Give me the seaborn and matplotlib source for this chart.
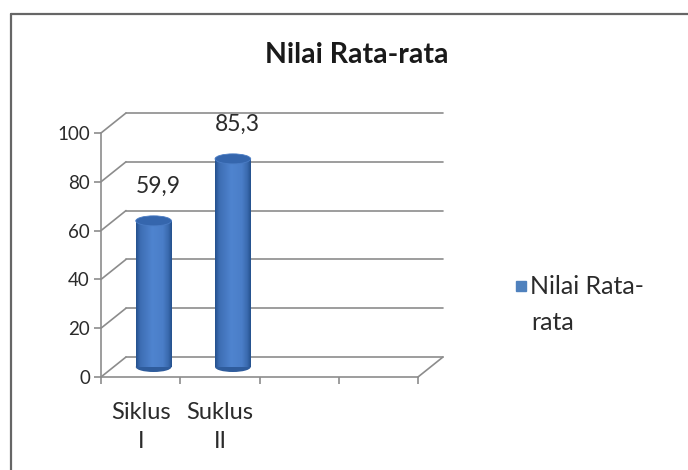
import numpy as np
import pandas as pd
import matplotlib
matplotlib.use("Agg")
import matplotlib.pyplot as plt
import seaborn as sns
from matplotlib.transforms import ScaledTranslation
from matplotlib.patches import Ellipse
from matplotlib.lines import Line2D
from matplotlib.colors import LinearSegmentedColormap

# ---- data ----
categories = ["Siklus\nI", "Suklus\nII"]
values = [59.9, 85.3]
value_labels = ["59,9", "85,3"]
n_slots = 4
yticks = [0, 20, 40, 60, 80, 100]
series_name = "Nilai Rata-rata"
title = "Nilai Rata-rata"

sns.set_theme(style="white")
plt.rcParams["font.family"] = ["Lato", "DejaVu Sans"]

GRID = "#8c8c8c"
TXT = "#2b2b2b"

fig = plt.figure(figsize=(6.88, 4.70), dpi=100)
fig.patch.set_facecolor("white")
ax = fig.add_axes([101 / 688, 1 - 377 / 470, 317 / 688, 244 / 470])

df = pd.DataFrame({"cat": categories, "val": values})
sns.barplot(data=df, x="cat", y="val", order=categories, color="#4F81BD",
            width=0.45, saturation=1, ax=ax, errorbar=None)
ax.set_xlim(-0.5, n_slots - 0.5)
ax.set_ylim(0, 100)
ax.set_xlabel("")
ax.set_ylabel("")

# depth transforms (pseudo 3-D)
back = ax.transData + ScaledTranslation(0.25, 0.20, fig.dpi_scale_trans)
mid = ax.transData + ScaledTranslation(0.13, 0.10, fig.dpi_scale_trans)
inv = ax.transData.inverted()

def to_back(x, y):
    return inv.transform(back.transform((x, y)))

xl, xr = -0.5, n_slots - 0.5
# back wall gridlines + side-wall diagonals
for y in yticks:
    ax.plot([xl, xr], [y, y], transform=back, color=GRID, lw=1.2,
            clip_on=False, zorder=0.5)
    bx, by = to_back(xl, y)
    ax.plot([xl, bx], [y, by], color=GRID, lw=1.2, clip_on=False, zorder=0.5)
# floor right edge
bx, by = to_back(xr, 0)
ax.plot([xr, bx], [0, by], color=GRID, lw=1.2, clip_on=False, zorder=0.5)

# cylinders
cmap = LinearSegmentedColormap.from_list(
    "cyl", [(0.0, "#24508c"), (0.12, "#3d6db3"), (0.45, "#4f84cf"),
            (0.75, "#4a7ec8"), (0.9, "#3a6aae"), (1.0, "#24508c")])
grad = np.linspace(0, 1, 256)[None, :]
px_per_unit = ax.transData.transform((0, 1))[1] - ax.transData.transform((0, 0))[1]
eh = 10.0 / px_per_unit

for patch, lab in zip(ax.patches, value_labels):
    x0, w, h = patch.get_x(), patch.get_width(), patch.get_height()
    xc = x0 + w / 2
    patch.set_transform(mid)
    patch.set_edgecolor("none")
    patch.set_zorder(3)
    im = ax.imshow(grad, extent=(x0, x0 + w, 0, h), transform=mid, cmap=cmap,
                   aspect="auto", zorder=3.1, interpolation="bilinear")
    im.set_clip_path(patch)
    ax.add_patch(Ellipse((xc, 0), w, eh, transform=mid, facecolor="#2f5c9c",
                         edgecolor="none", zorder=2.9))
    ax.add_patch(Ellipse((xc, h), w, eh, transform=mid, facecolor="#3566ad",
                         edgecolor="#4a7cc4", lw=0.6, zorder=3.3))
    ax.annotate(lab, xy=(xc, h), xycoords=mid, xytext=(3, 25),
                textcoords="offset points", ha="center", va="center",
                fontsize=16.5, color=TXT)

ax.set_xlim(-0.5, n_slots - 0.5)
ax.set_ylim(0, 100)

# axes styling
for s in ["top", "right"]:
    ax.spines[s].set_visible(False)
for s in ["left", "bottom"]:
    ax.spines[s].set_color(GRID)
    ax.spines[s].set_linewidth(1.2)
ax.set_yticks(yticks)
ax.set_yticklabels([str(v) for v in yticks])
ax.tick_params(axis="y", direction="out", length=5, width=1.2, color=GRID,
               labelsize=13.5, labelcolor=TXT, pad=3, left=True)
ax.set_xticks(np.arange(-0.5, n_slots, 1.0))
ax.set_xticklabels([])
ax.set_xticks(range(len(categories)), minor=True)
ax.set_xticklabels(categories, minor=True)
ax.tick_params(axis="x", which="major", direction="out", length=5, width=1.2,
               color=GRID, bottom=True)
ax.tick_params(axis="x", which="minor", length=0, pad=18, labelsize=17,
               labelcolor=TXT)
for t in ax.get_xticklabels(minor=True):
    t.set_linespacing(1.45)
ax.grid(False)

# title
fig.text(357 / 688, 1 - 55 / 470, title, ha="center", va="center",
         fontsize=20.5, fontweight="bold", color="#1a1a1a")

# legend
handle = Line2D([], [], marker="s", color="#4F81BD", ls="none", markersize=7.5)
leg_lines = ["Nilai Rata-", "rata"]
fig.legend(handles=[handle], labels=[leg_lines[0]], loc="center left",
           bbox_to_anchor=(513 / 688, 1 - 287 / 470), frameon=False,
           fontsize=18, handlelength=0.6, handletextpad=0.1,
           borderaxespad=0, borderpad=0, labelcolor=TXT)
fig.text(531 / 688, 1 - 322 / 470, leg_lines[1], ha="left", va="center",
         fontsize=18, color=TXT)

# outer frame
fig.add_artist(Line2D([11 / 688, 11 / 688], [0, 1 - 14 / 470],
                      transform=fig.transFigure, color="#666666", lw=1.6))
fig.add_artist(Line2D([11 / 688, 1], [1 - 14 / 470, 1 - 14 / 470],
                      transform=fig.transFigure, color="#666666", lw=1.6))

fig.savefig("out.png", dpi=100)
